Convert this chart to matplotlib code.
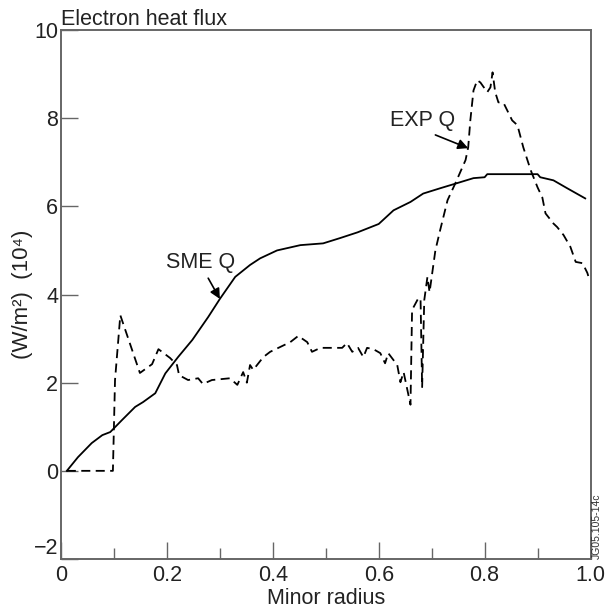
import matplotlib
matplotlib.use("Agg")
import matplotlib.pyplot as plt
from matplotlib.ticker import MultipleLocator

plt.rcParams["font.family"] = ["Liberation Sans", "DejaVu Sans"]

# SME Q (solid)
sme_r = [0.011, 0.032, 0.058, 0.078, 0.093, 0.115, 0.14, 0.155, 0.178, 0.197,
         0.221, 0.248, 0.278, 0.30, 0.329, 0.357, 0.376, 0.408, 0.452, 0.495,
         0.527, 0.56, 0.60, 0.628, 0.66, 0.684, 0.716, 0.749, 0.779, 0.80,
         0.805, 0.90, 0.905, 0.93, 0.956, 0.99]
sme_q = [0.0, 0.31, 0.63, 0.81, 0.88, 1.15, 1.45, 1.56, 1.76, 2.21,
         2.58, 2.97, 3.49, 3.9, 4.4, 4.67, 4.82, 5.0, 5.12, 5.16,
         5.28, 5.41, 5.6, 5.91, 6.1, 6.29, 6.41, 6.53, 6.64, 6.66,
         6.73, 6.73, 6.66, 6.59, 6.41, 6.18]

# EXP Q (dashed)
exp_r = [0.011, 0.098, 0.102, 0.112, 0.149, 0.172, 0.184, 0.206, 0.219, 0.223,
         0.24, 0.259, 0.268, 0.285, 0.319, 0.333, 0.344, 0.351, 0.357, 0.363,
         0.382, 0.395, 0.414, 0.433, 0.448, 0.465, 0.474, 0.49, 0.531, 0.54,
         0.55, 0.561, 0.571, 0.578, 0.59, 0.603, 0.612, 0.618, 0.635, 0.641,
         0.647, 0.66, 0.663, 0.675, 0.679, 0.682, 0.686, 0.692, 0.696, 0.707,
         0.716, 0.73, 0.745, 0.764, 0.769, 0.773, 0.779, 0.786, 0.792, 0.805,
         0.811, 0.815, 0.82, 0.826, 0.836, 0.852, 0.862, 0.873, 0.887, 0.90,
         0.909, 0.915, 0.93, 0.937, 0.949, 0.962, 0.972, 0.985, 0.994, 0.998]
exp_q = [0.0, 0.0, 2.06, 3.53, 2.22, 2.42, 2.76, 2.56, 2.4, 2.17,
         2.06, 2.1, 1.97, 2.06, 2.1, 1.95, 2.24, 2.0, 2.4, 2.29,
         2.58, 2.7, 2.81, 2.92, 3.06, 2.92, 2.7, 2.79, 2.79, 2.9,
         2.7, 2.79, 2.58, 2.79, 2.76, 2.67, 2.44, 2.67, 2.4, 2.01,
         2.24, 1.5, 3.65, 3.92, 3.9, 1.9, 3.87, 4.4, 4.05, 5.0,
         5.46, 6.14, 6.53, 7.05, 7.34, 7.95, 8.63, 8.86, 8.81, 8.59,
         8.7, 9.04, 8.59, 8.36, 8.34, 7.95, 7.84, 7.34, 6.82, 6.43,
         6.2, 5.84, 5.61, 5.53, 5.35, 5.08, 4.74, 4.71, 4.49, 4.33]

x_ticks = [0, 0.2, 0.4, 0.6, 0.8, 1.0]
x_ticklabels = ["0", "0.2", "0.4", "0.6", "0.8", "1.0"]
y_ticks = [-2, 0, 2, 4, 6, 8, 10]
y_ticklabels = ["\u22122", "0", "2", "4", "6", "8", "10"]

FS = 15.5
TXT = "#222222"

fig = plt.figure(figsize=(6.15, 6.10), dpi=100)
ax = fig.add_axes([0.0992, 0.0836, 0.8610, 0.8672])

ax.plot(sme_r, sme_q, color="black", lw=1.3)
ax.plot(exp_r, exp_q, color="black", lw=1.3, dashes=(5, 3))

ax.set_xlim(0, 1.0)
ax.set_ylim(-2, 10)
ax.set_xticks(x_ticks)
ax.set_xticklabels(x_ticklabels)
ax.set_yticks(y_ticks)
ax.set_yticklabels(y_ticklabels)
ax.xaxis.set_minor_locator(MultipleLocator(0.1))

ax.tick_params(axis="both", which="major", direction="in", length=12,
               width=1.0, color="#666666", labelsize=FS, labelcolor=TXT)
ax.tick_params(axis="x", which="major", pad=4)
ax.tick_params(axis="y", which="major", pad=2)
ax.tick_params(axis="x", which="minor", direction="in", length=8,
               width=1.0, color="#666666")
# the -2 label sits just above the bottom axis line
ax.get_yticklabels()[0].set_verticalalignment("bottom")

for s in ax.spines.values():
    s.set_color("#666666")
    s.set_linewidth(1.4)

ax.set_xlabel("Minor radius", fontsize=FS, color=TXT, labelpad=2)
ax.set_ylabel("(W/m\u00b2)  (10\u2074)", fontsize=16, color=TXT, labelpad=0.5)
ax.text(0.0, 10.11, "Electron heat flux", fontsize=FS, color=TXT,
        ha="left", va="baseline")

# labels with arrows
ax.text(0.263, 4.73, "SME Q", fontsize=FS, color=TXT, ha="center", va="center")
ax.annotate("", xy=(0.30, 3.9), xytext=(0.278, 4.37),
            arrowprops=dict(arrowstyle="-|>", color="black", lw=1.2,
                            mutation_scale=15, shrinkA=0, shrinkB=0))
ax.text(0.683, 7.95, "EXP Q", fontsize=FS, color=TXT, ha="center", va="center")
ax.annotate("", xy=(0.769, 7.32), xytext=(0.707, 7.62),
            arrowprops=dict(arrowstyle="-|>", color="black", lw=1.2,
                            mutation_scale=15, shrinkA=0, shrinkB=0))

fig.text(0.971, 0.083, "JG05.105-14c", fontsize=7.5, rotation=90,
         color="#333333", ha="center", va="bottom")

fig.savefig("out.png", dpi=100)
